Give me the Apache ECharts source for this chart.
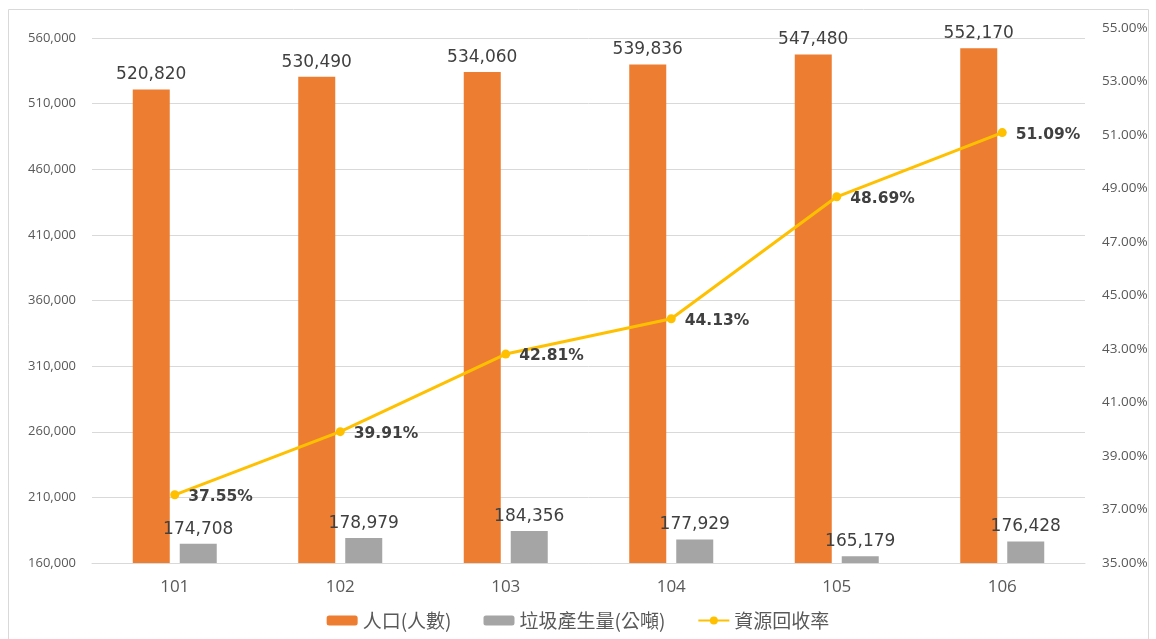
<!DOCTYPE html>
<html>
<head>
<meta charset="utf-8">
<script src="https://cdn.jsdelivr.net/npm/echarts@6/dist/echarts.min.js"></script>
<style>
html,body{margin:0;padding:0;background:#fff;}
#c{width:1156px;height:639px;}
</style>
</head>
<body>
<div id="c"></div>
<script>
const categories = ['101','102','103','104','105','106'];
const population = [520820,530490,534060,539836,547480,552170];
const waste = [174708,178979,184356,177929,165179,176428];
const recycleRate = [37.55,39.91,42.81,44.13,48.69,51.09];
const leftTicks = {min:160000, interval:50000, lastLabel:560000};
const rightTicks = {min:35, max:55, interval:2};

const font = '"Open Sans","Noto Sans CJK TC",sans-serif';
const chart = echarts.init(document.getElementById('c'));
// left axis stretched so that its 560,000 line sits below the right axis's 55% top
const leftMax = leftTicks.lastLabel + (10/65.6)*leftTicks.interval;
chart.setOption({
  animation:false,
  textStyle:{fontFamily:font},
  graphic:[{type:'rect',shape:{x:8.5,y:9.5,width:1140,height:660},style:{fill:'none',stroke:'#d9d9d9',lineWidth:1},silent:true}],
  grid:{left:92,right:71,top:28,bottom:76},
  legend:{
    bottom:4,left:'center',itemWidth:31,itemHeight:10,itemGap:32,
    textStyle:{color:'#595959',fontSize:19,fontFamily:'"Noto Sans CJK TC",sans-serif'},
    data:['人口(人數)','垃圾產生量(公噸)','資源回收率']
  },
  xAxis:{
    type:'category',data:categories,
    axisLine:{show:true,lineStyle:{color:'#d9d9d9'}},
    axisTick:{show:false},
    axisLabel:{color:'#595959',fontSize:17,margin:16}
  },
  yAxis:[{
    type:'value',min:leftTicks.min,max:leftMax,interval:leftTicks.interval,
    axisLine:{show:false},axisTick:{show:false},
    axisLabel:{color:'#595959',fontSize:13,showMaxLabel:false,margin:16,
      formatter:v=>v.toLocaleString('en-US')},
    splitLine:{lineStyle:{color:'#d9d9d9'},showMaxLine:false}
  },{
    type:'value',min:rightTicks.min,max:rightTicks.max,interval:rightTicks.interval,
    axisLine:{show:false},axisTick:{show:false},splitLine:{show:false},
    axisLabel:{color:'#595959',fontSize:13.5,margin:17,formatter:v=>v.toFixed(2)+'%'}
  }],
  series:[{
    name:'人口(人數)',type:'bar',data:population,barWidth:37,barGap:'27%',
    itemStyle:{color:'#ED7D31'},
    label:{show:true,position:'top',distance:6,color:'#404040',fontSize:17,fontFamily:'"DejaVu Sans",sans-serif',
      formatter:p=>p.value.toLocaleString('en-US')}
  },{
    name:'垃圾產生量(公噸)',type:'bar',data:waste,barWidth:37,
    itemStyle:{color:'#A5A5A5'},
    label:{show:true,position:'top',distance:6,color:'#404040',fontSize:17,fontFamily:'"DejaVu Sans",sans-serif',
      formatter:p=>p.value.toLocaleString('en-US')}
  },{
    name:'資源回收率',type:'line',yAxisIndex:1,data:recycleRate,
    symbol:'circle',symbolSize:9,
    lineStyle:{color:'#FFC000',width:3},itemStyle:{color:'#FFC000'},
    label:{show:true,position:'right',distance:9,color:'#404040',fontSize:15.5,fontWeight:'bold',fontFamily:'"DejaVu Sans",sans-serif',
      offset:[0,2],formatter:p=>p.value.toFixed(2)+'%'}
  }]
});
</script>
</body>
</html>
